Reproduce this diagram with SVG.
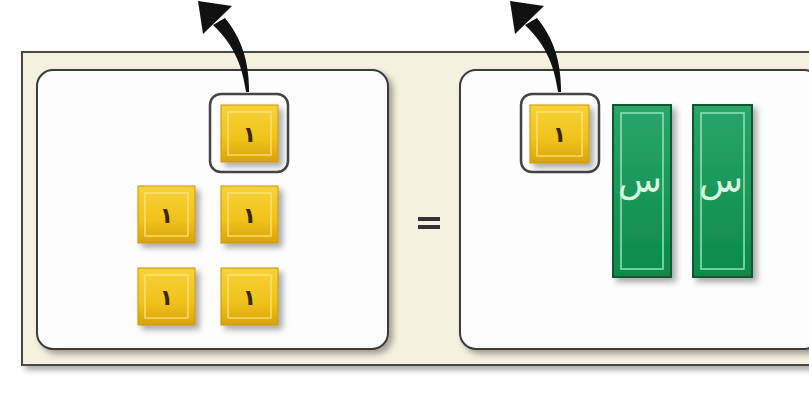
<svg xmlns="http://www.w3.org/2000/svg" width="809" height="394" viewBox="0 0 809 394">
<defs>
<linearGradient id="gold" x1="0" y1="0" x2="0" y2="1">
<stop offset="0" stop-color="#f7d23a"/>
<stop offset="0.6" stop-color="#f0c21a"/>
<stop offset="1" stop-color="#d9a30a"/>
</linearGradient>
<linearGradient id="green" x1="0" y1="0" x2="0" y2="1">
<stop offset="0" stop-color="#2aa56a"/>
<stop offset="1" stop-color="#0b8a4a"/>
</linearGradient>
<filter id="sh" x="-10%" y="-10%" width="130%" height="130%">
<feGaussianBlur in="SourceAlpha" stdDeviation="3"/>
<feOffset dx="4" dy="4"/>
<feComponentTransfer><feFuncA type="linear" slope="0.35"/></feComponentTransfer>
<feMerge><feMergeNode/><feMergeNode in="SourceGraphic"/></feMerge>
</filter>
<g id="arrowShape">
<path d="M249,92 C249,60 241,38 225,18 L213,25 C231,42 242,62 246,92 Z"/>
<path d="M198,1 L232,6 L203,34 Z"/>
</g>
</defs>
<style>
.panel{fill:#fdfdfd;stroke:#3a3a3a;stroke-width:2}
.tile{fill:url(#gold);stroke:#c8960a;stroke-width:1}
.bevel{fill:none;stroke:#fbe68a;stroke-width:1.5;opacity:0.8}
.one{font-family:"DejaVu Sans","Noto Sans",sans-serif;font-size:22px;fill:#3a2800;text-anchor:middle;font-weight:bold}
.hl{fill:none;stroke:#444;stroke-width:2.5}
.bar{fill:url(#green);stroke:#075a2e;stroke-width:2}
.barin{fill:none;stroke:#8fe6b4;stroke-width:1.5}
.x{font-family:"DejaVu Sans","Noto Sans",sans-serif;font-size:36px;fill:#d8f5e2;text-anchor:middle}
.arrow{fill:#111}
</style>
<rect width="809" height="394" fill="#ffffff"/>
<g id="frame">
<rect x="22" y="52" width="800" height="313" fill="#f6f0df" stroke="#4a4a4a" stroke-width="2" filter="url(#sh)"/>
</g>
<g id="left-panel">
<rect class="panel" x="37" y="70" width="351" height="279" rx="16" filter="url(#sh)"/>
</g>
<g id="right-panel">
<rect class="panel" x="460" y="70" width="360" height="279" rx="16" filter="url(#sh)"/>
</g>
<g id="equals">
<rect x="418" y="217" width="22" height="4" fill="#333"/>
<rect x="418" y="225" width="22" height="4" fill="#333"/>
</g>
<g id="tile-left-top">
<rect class="hl" x="210" y="94" width="78" height="78" rx="11"/>
<rect class="tile" x="221" y="105" width="57" height="57" filter="url(#sh)"/>
<rect class="bevel" x="228" y="112" width="43" height="43"/>
<text class="one" x="249.5" y="142">١</text>
</g>
<g id="tile-r2c1">
<rect class="tile" x="138" y="186" width="57" height="57" filter="url(#sh)"/>
<rect class="bevel" x="145" y="193" width="43" height="43"/>
<text class="one" x="166.5" y="223">١</text>
</g>
<g id="tile-r2c2">
<rect class="tile" x="221" y="186" width="57" height="57" filter="url(#sh)"/>
<rect class="bevel" x="228" y="193" width="43" height="43"/>
<text class="one" x="249.5" y="223">١</text>
</g>
<g id="tile-r3c1">
<rect class="tile" x="138" y="268" width="57" height="57" filter="url(#sh)"/>
<rect class="bevel" x="145" y="275" width="43" height="43"/>
<text class="one" x="166.5" y="305">١</text>
</g>
<g id="tile-r3c2">
<rect class="tile" x="221" y="268" width="57" height="57" filter="url(#sh)"/>
<rect class="bevel" x="228" y="275" width="43" height="43"/>
<text class="one" x="249.5" y="305">١</text>
</g>
<g id="tile-right">
<rect class="hl" x="521" y="94" width="78" height="78" rx="11"/>
<rect class="tile" x="530" y="105" width="59" height="58" filter="url(#sh)"/>
<rect class="bevel" x="537" y="112" width="45" height="44"/>
<text class="one" x="559.5" y="142">١</text>
</g>
<g id="x-bar-1">
<rect class="bar" x="613" y="105" width="58" height="172" filter="url(#sh)"/>
<rect class="barin" x="621" y="113" width="42" height="156"/>
<text class="x" x="640" y="192">س</text>
</g>
<g id="x-bar-2">
<rect class="bar" x="693" y="105" width="59" height="172" filter="url(#sh)"/>
<rect class="barin" x="701" y="113" width="43" height="156"/>
<text class="x" x="721" y="192">س</text>
</g>
<g id="connectors">
<use href="#arrowShape" class="arrow"/>
<use href="#arrowShape" class="arrow" transform="translate(312,0)"/>
</g>
</svg>
